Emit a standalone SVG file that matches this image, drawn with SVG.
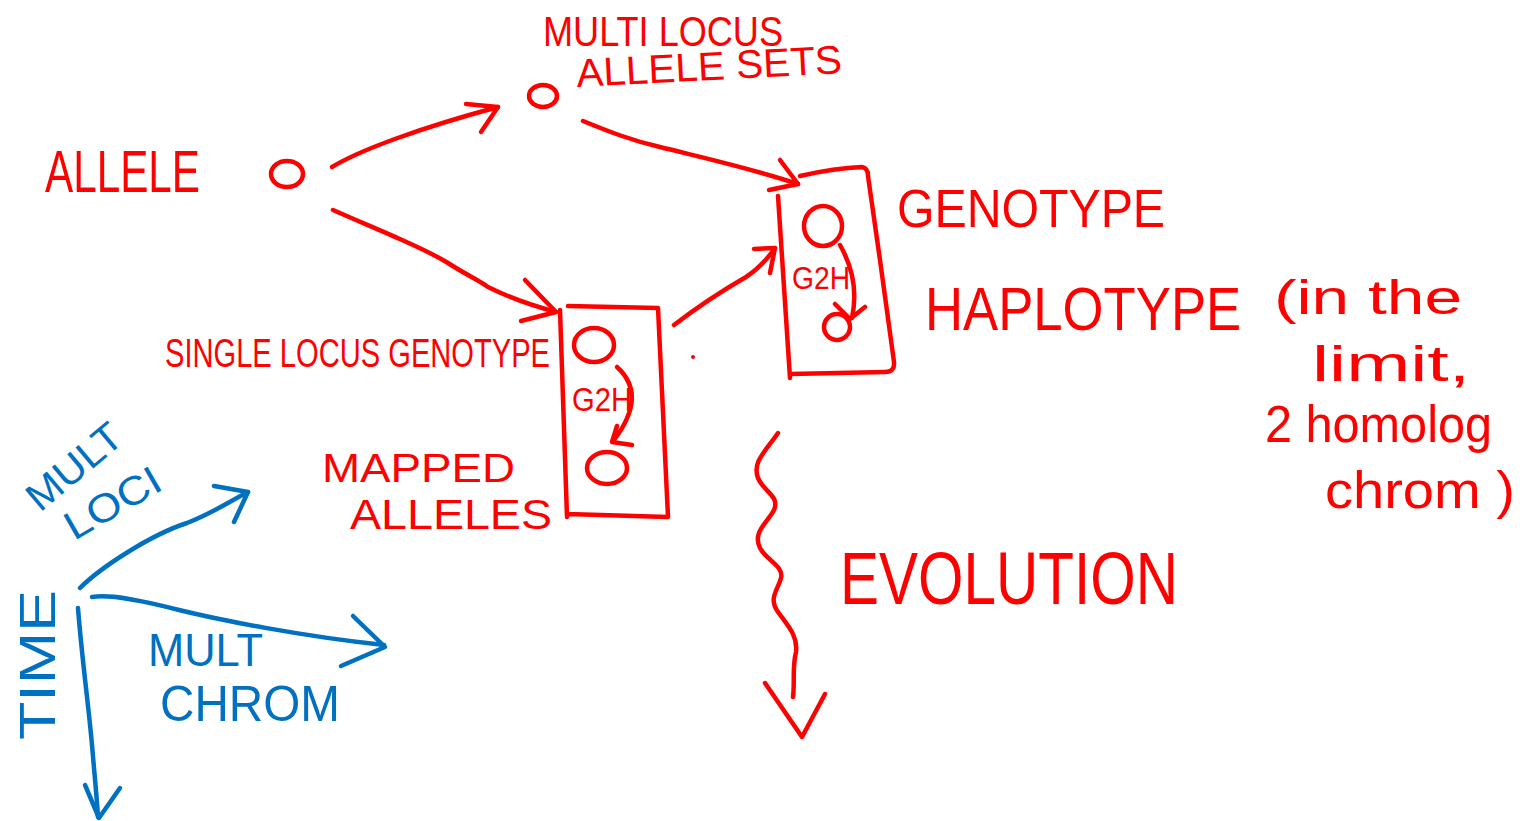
<svg xmlns="http://www.w3.org/2000/svg" width="1524" height="821" viewBox="0 0 1524 821">
  <style>
    .r { fill: none; stroke: #ff0000; stroke-width: 4.5; stroke-linecap: round; stroke-linejoin: round; }
    .b { fill: none; stroke: #0070c0; stroke-width: 4.5; stroke-linecap: round; stroke-linejoin: round; }
    .tr { fill: #ff0000; font-family: "Liberation Sans", Arial, sans-serif; }
    .tb { fill: #0070c0; font-family: "Liberation Sans", Arial, sans-serif; }
  </style>
  <rect width="1524" height="821" fill="#ffffff"/>

  <!-- single allele -->
  <g id="allele">
    <text class="tr" x="45" y="192" font-size="60" textLength="155" lengthAdjust="spacingAndGlyphs">ALLELE</text>
    <ellipse class="r" cx="287" cy="174" rx="16" ry="13"/>
  </g>

  <!-- multi-locus allele sets -->
  <g id="multi-locus">
    <text class="tr" x="543" y="46" font-size="42" textLength="240" lengthAdjust="spacingAndGlyphs">MULTI LOCUS</text>
    <text class="tr" x="577" y="87" font-size="40" textLength="266" lengthAdjust="spacingAndGlyphs" transform="rotate(-3 577 87)">ALLELE SETS</text>
    <ellipse class="r" cx="543" cy="96" rx="14" ry="11"/>
  </g>

  <!-- single-locus genotype box -->
  <g id="single-locus">
    <text class="tr" x="165" y="367" font-size="40" textLength="385" lengthAdjust="spacingAndGlyphs">SINGLE LOCUS GENOTYPE</text>
    <path class="r" d="M568,306 L658,308 Q662,400 668,517 L567,514 M560,310 L567,517"/>
    <ellipse class="r" cx="594" cy="345" rx="20" ry="17"/>
    <text class="tr" x="572" y="411" font-size="34" textLength="60" lengthAdjust="spacingAndGlyphs">G2H</text>
    <path class="r" d="M617,367 Q648,395 614,440 M617,426 L612,442 L632,445"/>
    <ellipse class="r" cx="607" cy="468" rx="20" ry="16"/>
    <text class="tr" x="322" y="482" font-size="40" textLength="193" lengthAdjust="spacingAndGlyphs">MAPPED</text>
    <text class="tr" x="350" y="529" font-size="42" textLength="202" lengthAdjust="spacingAndGlyphs">ALLELES</text>
  </g>

  <!-- genotype / haplotype box -->
  <g id="genotype">
    <path class="r" d="M800,176 Q835,168 862,167 Q868,168 868,176 L880,260 L894,362 Q895,372 885,372 L790,374 M778,196 L790,378"/>
    <ellipse class="r" cx="823" cy="226" rx="19" ry="20"/>
    <text class="tr" x="792" y="289" font-size="32" textLength="58" lengthAdjust="spacingAndGlyphs">G2H</text>
    <path class="r" d="M840,245 Q860,280 852,318 M835,304 L850,319 L865,307"/>
    <ellipse class="r" cx="837" cy="327" rx="13" ry="13"/>
    <text class="tr" x="897" y="227" font-size="54" textLength="268" lengthAdjust="spacingAndGlyphs">GENOTYPE</text>
  </g>

  <!-- haplotype note -->
  <g id="haplotype">
    <text class="tr" x="0" y="0" font-size="62" transform="translate(925 330) scale(0.85 1)">HAPLOTYPE</text>
    <text class="tr" x="1274" y="314" font-size="48" textLength="188" lengthAdjust="spacingAndGlyphs">(in the</text>
    <text class="tr" x="1312" y="381" font-size="50" textLength="158" lengthAdjust="spacingAndGlyphs">limit,</text>
    <text class="tr" x="1265" y="442" font-size="52" textLength="227" lengthAdjust="spacingAndGlyphs">2 homolog</text>
    <text class="tr" x="1325" y="508" font-size="52" textLength="190" lengthAdjust="spacingAndGlyphs">chrom )</text>
  </g>

  <!-- evolution -->
  <g id="evolution">
    <path class="r" d="M778,433 C765,452 752,462 758,478 C764,492 780,496 774,510 C768,522 752,532 760,548 C766,560 784,566 781,578 C778,590 768,598 778,612 C788,626 798,636 796,652 C792,668 795,680 793,697"/>
    <path class="r" d="M765,683 L802,737 L825,694"/>
    <text class="tr" x="840" y="604" font-size="74" textLength="338" lengthAdjust="spacingAndGlyphs">EVOLUTION</text>
  </g>

  <!-- axes -->
  <g id="axes">
    <path class="b" d="M80,588 C100,568 150,535 187,523 C215,512 232,500 248,492"/>
    <path class="b" d="M214,486 L248,492 L234,522"/>
    <path class="b" d="M92,597 C110,594 140,600 179,610 C220,620 300,636 384,645"/>
    <path class="b" d="M353,616 L385,647 L341,666"/>
    <path class="b" d="M78,608 C82,660 88,700 92,745 C95,780 97,800 98,817"/>
    <path class="b" d="M85,785 L99,818 L120,788"/>
    <text class="tb" x="40" y="513" font-size="40" textLength="112" lengthAdjust="spacingAndGlyphs" transform="rotate(-40 40 513)">MULT</text>
    <text class="tb" x="74" y="541" font-size="40" textLength="105" lengthAdjust="spacingAndGlyphs" transform="rotate(-30 74 541)">LOCI</text>
    <text class="tb" x="55" y="740" font-size="50" textLength="150" lengthAdjust="spacingAndGlyphs" transform="rotate(-90 55 740)">TIME</text>
    <text class="tb" x="148" y="666" font-size="46" textLength="115" lengthAdjust="spacingAndGlyphs">MULT</text>
    <text class="tb" x="160" y="721" font-size="50" textLength="180" lengthAdjust="spacingAndGlyphs">CHROM</text>
  </g>

  <!-- connectors -->
  <g id="connectors">
    <path class="r" d="M332,167 C360,150 420,128 498,107"/>
    <path class="r" d="M466,104 L498,107 L481,132"/>
    <path class="r" d="M583,121 C610,132 630,140 660,147 C700,157 750,168 798,184"/>
    <path class="r" d="M780,160 L798,184 L769,190"/>
    <path class="r" d="M333,210 C360,222 380,230 402,240 C420,248 435,255 448,263 C465,274 478,280 488,287 C510,298 530,305 556,312"/>
    <path class="r" d="M525,280 L556,312 L521,321"/>
    <path class="r" d="M674,325 C700,305 720,292 746,277 C760,268 768,258 775,248"/>
    <path class="r" d="M754,249 L775,248 L770,273"/>
    <circle cx="693" cy="357" r="2" fill="#ff0000"/>
  </g>
</svg>
